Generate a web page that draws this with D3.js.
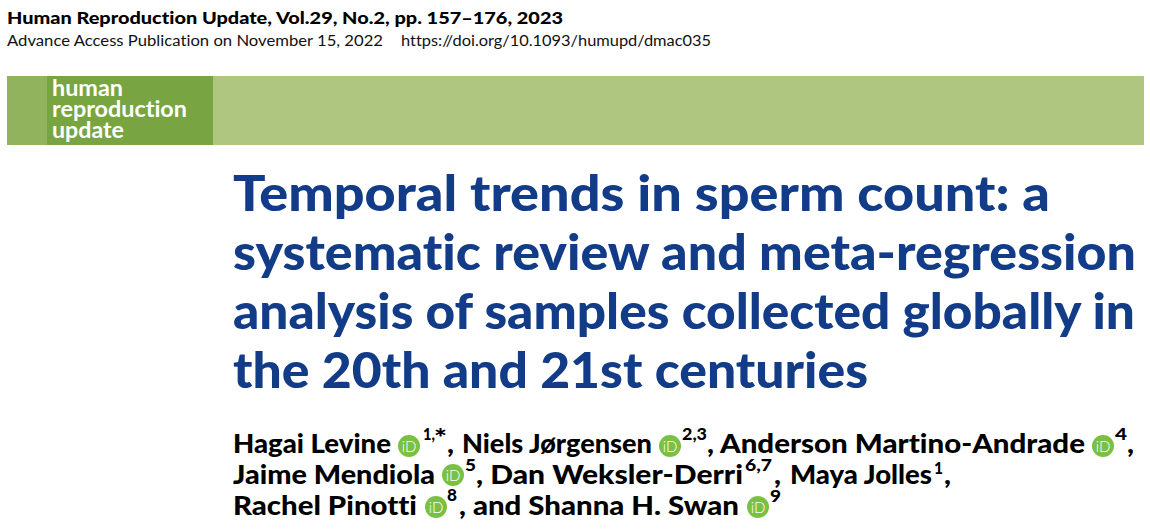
<!DOCTYPE html>
<html>
<head>
<meta charset="utf-8">
<script src="https://d3js.org/d3.v7.min.js"></script>
<style>
html,body{margin:0;padding:0;background:#fff;}
svg{display:block;}
text{font-family:Lato,"Open Sans",sans-serif;font-variant-ligatures:none;}
</style>
</head>
<body>
<svg id="page" width="1150" height="529"></svg>
<script>
// Texts of the page
var journalLine = "Human Reproduction Update, Vol.29, No.2, pp. 157–176, 2023",
accessLine = "Advance Access Publication on November 15, 2022",
doiLine = "https://doi.org/10.1093/humupd/dmac035",
logoWords = ["human","reproduction","update"],
titleLines = ["Temporal trends in sperm count: a","systematic review and meta-regression","analysis of samples collected globally in","the 20th and 21st centuries"],
authorNames = ["Hagai Levine",",","Niels Jørgensen",",","Anderson Martino-Andrade",",","Jaime Mendiola",", Dan Weksler-Derri",",","Maya Jolles",",","Rachel Pinotti",", and Shanna H. Swan"],
affiliations = ["1,","2,3","4","5","6,7","1","8","9"],
correspondingMark = ["*"];

// Layout of the same texts, index for index: [x start, x end, baseline]
var logoPos = [[52,123,96],[52,187,117],[52,124,138]],
titlePos = [[233,1050,211],[233,1136,270],[233,1135,329],[233,868,388]],
namePos = [[233,391,453],[447,454,453],[462,652,453],[707,714,453],[720,1085,453],[1127,1134,453],
	[233,435,484],[476,743,484],[774,781,484],[790,932,484],[944,951,484],
	[233,417,515],[459,739,515]],
supPos = [[423,435,440],[682,707,440],[1115,1127,440],[465,476,471],[745,772,471],[934,943,474],[447,457,501],[770,781,502]],
markPos = [[434,447,447]],
orcidPos = [[409,446],[670,446],[1103,446],[453,475],[436,507],[758,507]];

var svg = d3.select("#page");

// Fit a text between two x positions
function fitted(sel,size,weight,color) {
	return sel.append("text")
	.attr("x", function(d,i){return d.pos[0];})
	.attr("y", function(d,i){return d.pos[2];})
	.attr("textLength", function(d,i){return d.pos[1]-d.pos[0];})
	.attr("lengthAdjust","spacingAndGlyphs")
	.attr("font-size",size)
	.attr("font-weight",weight)
	.attr("fill",color)
	.text(function(d){return d.t;});
}
function zipped(texts,pos) {
	return texts.map(function(t,i){return {t:t,pos:pos[i]};});
}
function block(cls,texts,pos,size,weight,color) {
	var g = svg.append("g").attr("class",cls).selectAll("g").data(zipped(texts,pos)).join("g");
	return fitted(g,size,weight,color);
}

// Running head
block("head",[journalLine],[[7,563,24]],16,900,"#000");
block("head",[accessLine,doiLine],[[7,383,46],[401,711,46]],15.5,400,"#111");

// Green banner
svg.append("rect").attr("x",7).attr("y",76).attr("width",1137).attr("height",69).attr("fill","#aec680");
svg.append("rect").attr("x",7).attr("y",76).attr("width",40).attr("height",69).attr("fill","#92b35e");
svg.append("rect").attr("x",47).attr("y",76).attr("width",166).attr("height",69).attr("fill","#78a441");
block("logo",logoWords,logoPos,23,700,"#fff");

// Title
block("title",titleLines,titlePos,50,900,"#123c87");

// Authors
block("names",authorNames,namePos,27,900,"#000");
block("sup",affiliations,supPos,17,900,"#000");
block("sup",correspondingMark,markPos,24,900,"#000");

// ORCID badges
var badge = svg.append("g").attr("class","orcid").selectAll("g").data(orcidPos).join("g")
.attr("transform",function(d){return "translate("+d[0]+","+d[1]+")";});
badge.append("circle").attr("r",11).attr("fill","#7ac143");
badge.append("text").attr("text-anchor","middle").attr("y",5.5).attr("font-size",15)
.attr("font-weight",300).attr("fill","#fff").text("iD");
</script>
</body>
</html>
